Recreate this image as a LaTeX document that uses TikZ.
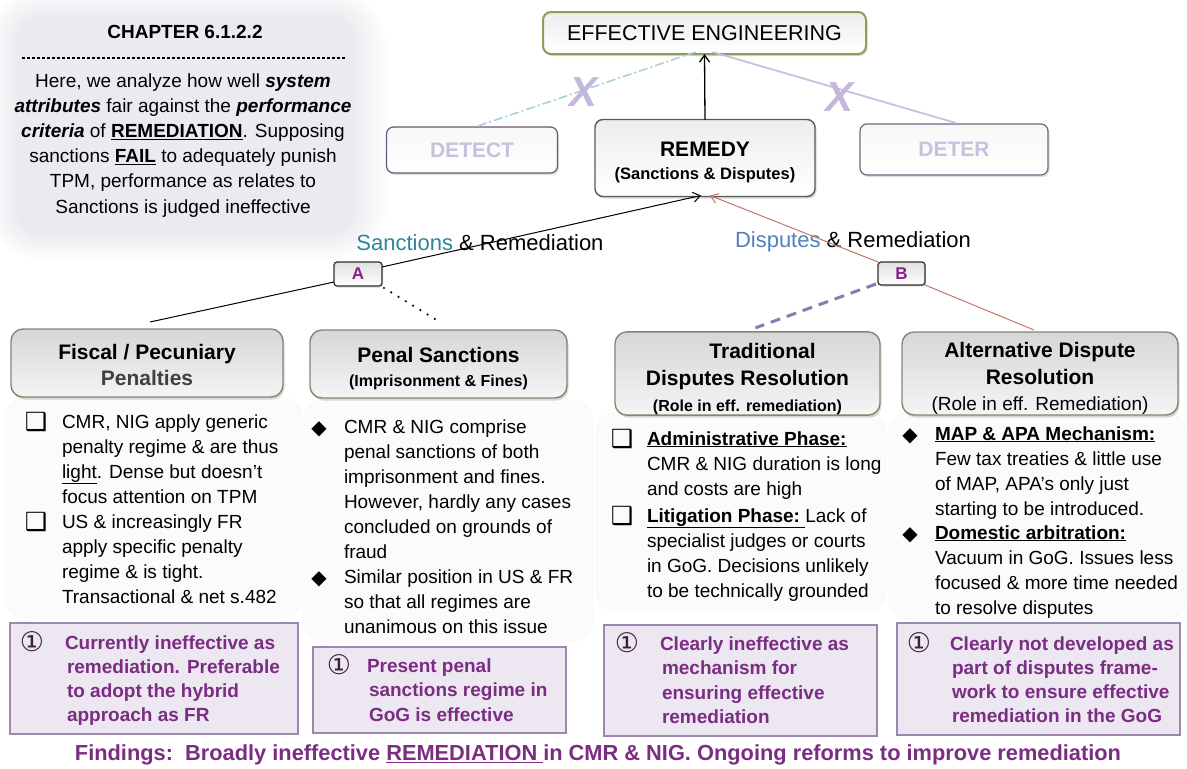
\documentclass[tikz,border=0pt]{standalone}
\usepackage{fontspec}
\setmainfont{Liberation Sans}
\newfontfamily\symfnt{DejaVu Sans}
\usetikzlibrary{arrows.meta,shadows,calc}
\newcommand\fsz[2]{\fontsize{#1}{#2}\selectfont}
\definecolor{sanccol}{HTML}{31849B}
\definecolor{dispcol}{HTML}{4F81BD}
\definecolor{abcol}{HTML}{8B1F8B}
\definecolor{findcol}{HTML}{7B2C83}
\definecolor{circcol}{HTML}{3D1F40}
\definecolor{boxfill}{HTML}{ECE7F0}
\definecolor{boxdraw}{HTML}{9C87AE}
\definecolor{ghosttxt}{HTML}{C9C0DE}
\definecolor{xcol}{HTML}{C4B7DC}
\definecolor{dashdotcol}{HTML}{A9D3D1}
\definecolor{detercol}{HTML}{C9BFDF}
\definecolor{redcol}{HTML}{C8746C}
\definecolor{purpdash}{HTML}{8C7BB0}
\definecolor{hdrborder}{HTML}{86866E}
\definecolor{eeborder}{HTML}{8F9C5A}
\definecolor{panelin}{HTML}{ECEAF0}
\definecolor{glowcol}{HTML}{CFCCD8}
\definecolor{penaltcol}{HTML}{404040}
\begin{document}
\begin{tikzpicture}[x=1pt,y=-1pt,
  every node/.style={inner sep=0pt, outer sep=0pt},
  hdrbox/.style={draw=hdrborder, line width=1.4pt, rounded corners=12pt,
     top color=black!16, bottom color=black!4, align=center,
     drop shadow={shadow xshift=1.5pt, shadow yshift=-2.5pt, opacity=.3}},
  topbox/.style={draw=black!65, line width=1.4pt, rounded corners=8pt,
     top color=black!7, bottom color=white, align=center,
     drop shadow={shadow xshift=1.5pt, shadow yshift=-2pt, opacity=.3}},
  ghostbox/.style={draw=black!35!boxdraw, line width=1.2pt, rounded corners=7pt,
     top color=black!3, bottom color=white, text=ghosttxt,
     font=\fsz{21}{24}\bfseries,
     drop shadow={shadow xshift=1.5pt, shadow yshift=-2pt, opacity=.25}},
  letterbox/.style={draw=black!65!hdrborder, line width=1.2pt, rounded corners=3pt,
     top color=black!12, bottom color=white, text=abcol,
     font=\fsz{17}{20}\bfseries,
     drop shadow={shadow xshift=1pt, shadow yshift=-1.5pt, opacity=.3}},
  resbox/.style={draw=boxdraw, line width=1.3pt, fill=boxfill},
  colbg/.style={fill=black!1.5, draw=black!4, rounded corners=22pt},
  bodytxt/.style={anchor=base west, align=left},
  restxt/.style={anchor=base west, align=left, text=findcol},
  sqbul/.style={anchor=base, font=\symfnt\bfseries\fsz{25}{25}},
  dmbul/.style={anchor=base, font=\symfnt\fsz{20}{20}},
  circ/.style={anchor=base, text=circcol, font=\symfnt\fsz{27}{27}},
  xmk/.style={text=xcol, font=\fsz{42}{42}\bfseries\itshape},
]
\useasboundingbox (0,0) rectangle (1187,769);

% ---------- top-left panel with soft glow ----------
\foreach \g in {1,...,12}{
  \fill[glowcol, opacity=0.035, rounded corners={26pt+2.6pt*\g}]
    ({16-2.6*\g},{14-2*\g}) rectangle ({354+2.8*\g},{236+2*\g});
}
\fill[panelin, rounded corners=26pt] (16,14) rectangle (354,236);
\node[font=\fsz{19}{22}\bfseries] (chap) at (185,32) {CHAPTER 6.1.2.2};
\draw[line width=1.5pt, dash pattern=on 3pt off 2pt] (22,58) -- (346,58);
\node[anchor=base] (intro) at (183,87) {\parbox[t]{340pt}{\centering\fsz{19}{25.2}%
Here, we analyze how well \textbf{\textit{system}}\\
\textbf{\textit{attributes}} fair against the \textbf{\textit{performance}}\\
\textbf{\textit{criteria}} of \textbf{\underline{REMEDIATION}}. Supposing\\
sanctions \textbf{\underline{FAIL}} to adequately punish\\
TPM, performance as relates to\\
Sanctions is judged ineffective}};

% ---------- column backgrounds ----------
\path[colbg] (4,398) rectangle (303,618);
\path[colbg] (303,400) rectangle (593,642);
\path[colbg] (596,412) rectangle (886,612);
\path[colbg] (888,412) rectangle (1186,620);

% ---------- top boxes ----------
\node[topbox, draw=eeborder, line width=2pt, minimum width=323pt, minimum height=42pt,
      font=\fsz{21.5}{24}] (ee) at (704.5,33) {EFFECTIVE ENGINEERING};
\node[ghostbox, minimum width=171pt, minimum height=46pt] (det) at (472,150) {DETECT};
\node[ghostbox, draw=black!25!boxdraw, minimum width=188pt, minimum height=51pt] (dtr) at (954,149.5) {DETER};
\node[topbox, minimum width=220pt, minimum height=77pt, font=\fsz{21}{23}\bfseries] (rem) at (705,158)
  {\rule{0pt}{23pt}REMEDY\\\fsz{16.5}{22}\bfseries (Sanctions \& Disputes)};

% ghost links with crosses
\draw[dashdotcol, line width=1.6pt, dash pattern=on 9pt off 3pt on 2pt off 3pt]
  ($(det.north)+(6,-1)$) -- ($(ee.south)+(-9,-2)$);
\draw[detercol, line width=1.8pt] ($(dtr.north)+(2,-1)$) -- ($(ee.south)+(8,-2)$);
\node[xmk] (x1) at (584,92) {X};
\node[xmk] (x2) at (839,97) {X};

\draw[line width=1.3pt, -{Straight Barb[length=7pt,width=10pt]}] (rem.north) -- (ee.south);

% ---------- labels ----------
\node[font=\fsz{22}{24}] (slab) at (480,243) {\textcolor{sanccol}{Sanctions} \& Remediation};
\node[font=\fsz{22}{24}] (dlab) at (853,242) {\textcolor{dispcol}{Disputes} \& Remediation};
\node[letterbox, minimum width=48pt, minimum height=24pt] (A) at (358,274) {A};
\node[letterbox, minimum width=47pt, minimum height=23pt] (B) at (901.5,273.5) {B};

% ---------- headers ----------
\node[hdrbox, minimum width=272pt, minimum height=68pt, font=\fsz{21}{26}\bfseries] (fis) at (147,363)
  {\rule{0pt}{19pt}Fiscal / Pecuniary\\\textcolor{penaltcol}{Penalties}};
\node[hdrbox, minimum width=257pt, minimum height=68pt, font=\fsz{21}{24}\bfseries] (pen) at (438.5,364)
  {\rule{0pt}{24pt}Penal Sanctions\\\fsz{16}{24}\bfseries (Imprisonment \& Fines)};
\node[hdrbox, minimum width=265pt, minimum height=83pt, font=\fsz{21}{26.5}\bfseries] (trad) at (747.5,373.5)
  {\rule{0pt}{27pt}\hspace*{30pt}Traditional\\Disputes Resolution\\\fsz{16}{25.5}\bfseries (Role in eff. remediation)};
\node[hdrbox, minimum width=276pt, minimum height=83pt, font=\fsz{21}{26.5}\bfseries] (alt) at (1040,373.5)
  {\rule{0pt}{25pt}Alternative Dispute\\Resolution\\\fsz{19}{26}\mdseries (Role in eff. Remediation)};

% ---------- connectors ----------
\draw[line width=1pt] ($(fis.north)+(3,-7)$) -- ($(A.west)+(0,8)$);
\draw[line width=1pt, -{Straight Barb[length=7pt,width=10pt]}] ($(A.north east)+(0,5)$) -- ($(rem.south)+(-4,-1)$);
\draw[line width=2.4pt, line cap=round, dash pattern=on 0pt off 8.5pt] ($(A.south east)+(2,2)$) -- ($(pen.north)+(3,-7)$);
\draw[redcol, line width=1pt, -{Straight Barb[length=7pt,width=10pt]}] (B.north west) -- ($(rem.south)+(5,-1)$);
\draw[redcol, line width=1pt] (B.south east) -- ($(alt.north)+(-6,-2)$);
\draw[purpdash, line width=3pt, dash pattern=on 10pt off 7pt] ($(B.south west)+(-2,-1)$) -- ($(trad.north)+(8,-4)$);

% ---------- column 1 ----------
\node[sqbul] (b11) at (36,430) {❑};
\node[bodytxt] (t11) at (62,428) {\parbox[t]{240pt}{\raggedright\fsz{19}{25}%
CMR, NIG apply generic\\penalty regime \& are thus\\\underline{light}. Dense but doesn’t\\focus attention on TPM}};
\node[sqbul] (b12) at (36,530) {❑};
\node[bodytxt] (t12) at (62,528) {\parbox[t]{240pt}{\raggedright\fsz{19}{25}%
US \& increasingly FR\\apply specific penalty\\regime \& is tight.\\Transactional \& net s.482}};

% ---------- column 2 ----------
\node[dmbul] (b21) at (319,434) {◆};
\node[bodytxt] (t21) at (344,433) {\parbox[t]{245pt}{\raggedright\fsz{19}{25}%
CMR \& NIG comprise\\penal sanctions of both\\imprisonment and fines.\\However, hardly any cases\\concluded on grounds of\\fraud}};
\node[dmbul] (b22) at (319,584) {◆};
\node[bodytxt] (t22) at (344,583) {\parbox[t]{245pt}{\raggedright\fsz{19}{25}%
Similar position in US \& FR\\so that all regimes are\\unanimous on this issue}};

% ---------- column 3 ----------
\node[sqbul] (b31) at (622,447) {❑};
\node[bodytxt] (t31) at (647,445) {\parbox[t]{245pt}{\raggedright\fsz{19}{25.3}%
\textbf{\underline{Administrative Phase:}}\\CMR \& NIG duration is long\\and costs are high}};
\node[sqbul] (b32) at (622,524) {❑};
\node[bodytxt] (t32) at (647,522) {\parbox[t]{245pt}{\raggedright\fsz{19}{25}%
\textbf{\underline{Litigation Phase:\ }}Lack of\\specialist judges or courts\\in GoG. Decisions unlikely\\to be technically grounded}};

% ---------- column 4 ----------
\node[dmbul] (b41) at (910,441) {◆};
\node[bodytxt] (t41) at (935,440) {\parbox[t]{250pt}{\raggedright\fsz{19}{25}%
\textbf{\underline{MAP \& APA Mechanism:}}\\Few tax treaties \& little use\\of MAP, APA’s only just\\starting to be introduced.}};
\node[dmbul] (b42) at (910,540) {◆};
\node[bodytxt] (t42) at (935,539) {\parbox[t]{250pt}{\raggedright\fsz{19}{25}%
\textbf{\underline{Domestic arbitration:}}\\Vacuum in GoG. Issues less\\focused \& more time needed\\to resolve disputes}};

% ---------- result boxes ----------
\draw[resbox] (10,623) rectangle (298,734);
\node[circ] (c1) at (32,651) {①};
\node[restxt] (r1) at (65,649) {\parbox[t]{230pt}{\raggedright\fsz{19}{24.3}\bfseries
Currently ineffective as\\\hspace*{2pt}remediation. Preferable\\\hspace*{2pt}to adopt the hybrid\\\hspace*{2pt}approach as FR}};

\draw[resbox] (313,647) rectangle (566,733);
\node[circ] (c2) at (339,674) {①};
\node[restxt] (r2) at (367,672) {\parbox[t]{195pt}{\raggedright\fsz{19}{24.5}\bfseries
Present penal\\\hspace*{2pt}sanctions regime in\\\hspace*{2pt}GoG is effective}};

\draw[resbox] (604,625) rectangle (877,736);
\node[circ] (c3) at (627,652) {①};
\node[restxt] (r3) at (660,650) {\parbox[t]{215pt}{\raggedright\fsz{19}{24.5}\bfseries
Clearly ineffective as\\\hspace*{2pt}mechanism for\\\hspace*{2pt}ensuring effective\\\hspace*{2pt}remediation}};

\draw[resbox] (897,623) rectangle (1180,735);
\node[circ] (c4) at (919,652) {①};
\node[restxt] (r4) at (950,650) {\parbox[t]{228pt}{\raggedright\fsz{19}{24.3}\bfseries
Clearly not developed as\\\hspace*{2pt}part of disputes frame-\\\hspace*{2pt}work to ensure effective\\\hspace*{2pt}remediation in the GoG}};

% ---------- findings ----------
\node[text=findcol, font=\fsz{21.8}{24}\bfseries] (find) at (598,755)
  {Findings:\ \ Broadly ineffective \underline{REMEDIATION }in CMR \& NIG. Ongoing reforms to improve remediation};
\end{tikzpicture}
\end{document}
